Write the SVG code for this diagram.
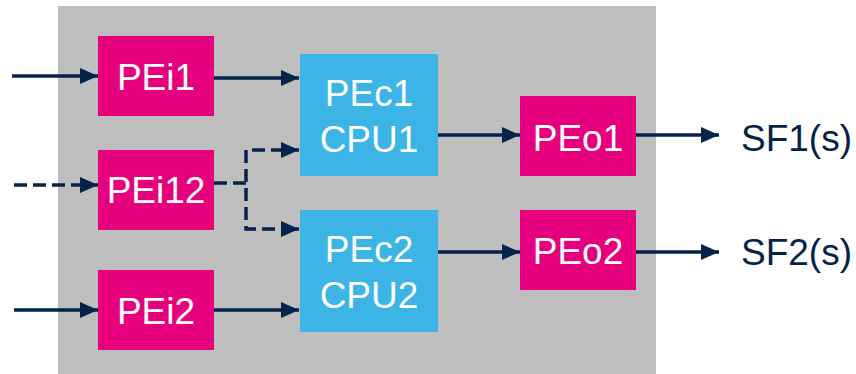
<svg xmlns="http://www.w3.org/2000/svg" width="856" height="374" viewBox="0 0 856 374">
<defs>
<marker id="ah" markerUnits="userSpaceOnUse" markerWidth="18" markerHeight="16" refX="18" refY="8" orient="auto">
<path d="M0,0 L18,8 L0,16 Z" fill="#03234B"/>
</marker>
<style>
.pei{fill:#E6007E}
.pec{fill:#3CB4E6}
.t{font-family:"Liberation Sans",Arial,sans-serif;font-size:37px;fill:#FFFFFF;text-anchor:middle}
.o{font-family:"Liberation Sans",Arial,sans-serif;font-size:37px;fill:#03234B}
.c{fill:none;stroke:#03234B;stroke-width:3.5;marker-end:url(#ah)}
.d{fill:none;stroke:#03234B;stroke-width:3.5;stroke-dasharray:13 6}
</style>
</defs>
<rect x="58" y="6" width="598" height="368" fill="#BEBEBE"/>
<g id="connectors">
<line class="c" x1="12" y1="76" x2="98" y2="76"/>
<line class="c" x1="214" y1="78" x2="299" y2="78"/>
<line class="d" x1="14" y1="185" x2="82" y2="185"/>
<line class="c" x1="80" y1="185" x2="98" y2="185"/>
<polyline class="d" points="214,183 246,183"/>
<polyline class="d" points="284,150 246,150 246,229 284,229"/>
<line class="c" x1="282" y1="150" x2="299" y2="150"/>
<line class="c" x1="282" y1="229" x2="299" y2="229"/>
<line class="c" x1="14" y1="310" x2="98" y2="310"/>
<line class="c" x1="214" y1="310" x2="299" y2="310"/>
<line class="c" x1="438" y1="135" x2="520" y2="135"/>
<line class="c" x1="636" y1="135" x2="719" y2="135"/>
<line class="c" x1="438" y1="252" x2="520" y2="252"/>
<line class="c" x1="636" y1="252" x2="719" y2="252"/>
</g>
<g id="PEi1"><rect class="pei" x="98" y="36" width="116" height="80"/><text class="t" x="156" y="90">PEi1</text></g>
<g id="PEi12"><rect class="pei" x="98" y="150" width="116" height="80"/><text class="t" x="156" y="203">PEi12</text></g>
<g id="PEi2"><rect class="pei" x="98" y="270" width="116" height="80"/><text class="t" x="156" y="324">PEi2</text></g>
<g id="PEc1"><rect class="pec" x="300" y="54" width="138" height="122"/><text class="t" x="369" y="106">PEc1</text><text class="t" x="369" y="152">CPU1</text></g>
<g id="PEc2"><rect class="pec" x="300" y="210" width="138" height="122"/><text class="t" x="369" y="262">PEc2</text><text class="t" x="369" y="308">CPU2</text></g>
<g id="PEo1"><rect class="pei" x="520" y="96" width="116" height="80"/><text class="t" x="578" y="151">PEo1</text></g>
<g id="PEo2"><rect class="pei" x="520" y="210" width="116" height="80"/><text class="t" x="578" y="264">PEo2</text></g>
<g id="SF1"><text class="o" x="741" y="151">SF1(s)</text></g>
<g id="SF2"><text class="o" x="741" y="265">SF2(s)</text></g>
</svg>
